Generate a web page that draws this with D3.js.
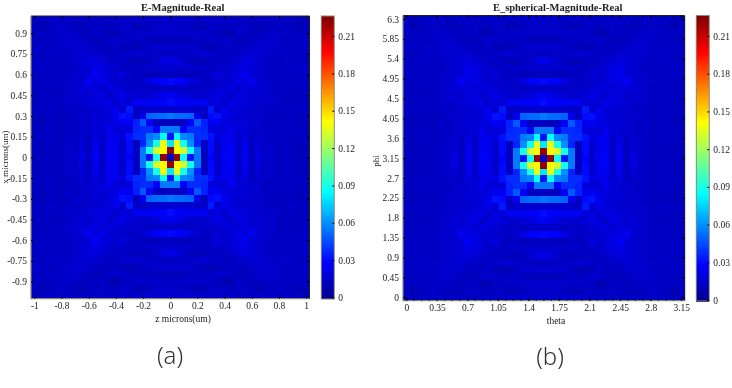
<!DOCTYPE html>
<html>
<head>
<meta charset="utf-8">
<script src="https://cdn.jsdelivr.net/npm/d3@7"></script>
<style>
  html, body { margin: 0; padding: 0; background: #fff; }
  svg { display: block; filter: blur(0.35px); }
</style>
</head>
<body>
<script>
// Upper-left quadrant of the field, in thousandths. Rows go top -> centre, columns left -> centre.
// The picture is symmetric around the centre cell, so the other three quadrants mirror this one.
var quadrant = [
  [13,12,13,14,15,14,13,14,15,14,13,14,15,15,14,15,16,16,15,16,16],
  [13,9,12,13,14,13,12,10,12,14,14,13,12,14,14,10,10,12,14,14,15],
  [14,13,13,14,14,15,14,13,12,13,15,9,9,13,14,15,15,15,15,15,15],
  [13,13,14,13,15,15,16,15,13,11,11,14,15,15,14,13,14,12,11,11,11],
  [14,14,13,14,14,16,17,16,15,13,13,13,15,10,10,10,13,15,16,16,16],
  [14,12,14,15,14,14,16,18,17,16,14,13,13,15,15,17,15,14,14,13,13],
  [13,13,14,14,13,14,15,17,19,20,17,15,14,14,13,11,11,12,15,20,22],
  [14,14,14,13,14,13,15,17,18,22,20,17,15,14,13,14,14,15,16,16,16],
  [14,13,13,13,13,14,15,16,18,26,20,18,16,20,14,13,13,11,11,12,12],
  [13,13,14,13,14,15,16,18,25,19,22,18,16,15,14,14,16,20,27,28,30],
  [13,12,13,14,12,15,16,18,18,20,16,20,19,17,15,15,14,13,14,14,14],
  [13,13,13,13,13,15,16,18,15,19,21,15,19,22,18,16,16,17,19,22,25],
  [13,12,14,13,14,15,15,16,18,19,20,22,15,20,17,25,25,25,26,28,31],
  [13,13,14,14,12,14,14,15,16,16,18,19,23,16,34,14,14,16,16,16,16],
  [13,11,13,13,12,13,14,16,15,18,17,19,24,32,30,12,24,50,52,52,55],
  [12,11,13,14,12,15,13,16,15,19,17,19,20,26,24,35,48,28,12,12,12],
  [12,12,14,13,12,14,13,15,16,18,18,24,18,18,20,36,38,38,28,55,55],
  [13,13,13,14,12,14,14,16,13,20,16,23,23,20,32,38,38,55,58,85,32],
  [13,11,13,13,12,15,14,18,13,23,15,25,24,15,30,12,36,60,90,138,80],
  [12,11,13,14,12,15,14,19,12,24,15,26,24,15,30,12,55,88,132,142,222],
  [13,12,13,13,12,15,15,21,13,26,15,26,25,15,28,12,55,32,85,222,15]
]

var xTicksA = [-1, -0.8, -0.6, -0.4, -0.2, 0, 0.2, 0.4, 0.6, 0.8, 1]
var yTicksA = [0.9, 0.75, 0.6, 0.45, 0.3, 0.15, 0, -0.15, -0.3, -0.45, -0.6, -0.75, -0.9]
var xTicksB = [0, 0.35, 0.7, 1.05, 1.4, 1.75, 2.1, 2.45, 2.8, 3.15]
var yTicksB = [0, 0.45, 0.9, 1.35, 1.8, 2.25, 2.7, 3.15, 3.6, 4.05, 4.5, 4.95, 5.4, 5.85, 6.3]
var barTicks = [0, 0.03, 0.06, 0.09, 0.12, 0.15, 0.18, 0.21]

var width = 732
var height = 388
var serif = '"Liberation Serif", "Times New Roman", serif'
var frameGray = '#8a8a78'

// full 41x41 grid from the quadrant
var field = []
for (var r = 0; r < 41; r++) {
  var row = []
  for (var c = 0; c < 41; c++) {
    row.push(quadrant[r <= 20 ? r : 40 - r][c <= 20 ? c : 40 - c] / 1000)
  }
  field.push(row)
}

// jet colormap
var vMax = 0.226
var jet = d3.scaleLinear()
  .domain([0, 0.125, 0.375, 0.625, 0.875, 1].map(d => d * vMax))
  .range(['#00008f', '#0000ff', '#00ffff', '#ffff00', '#ff0000', '#800000'])
  .clamp(true)

var svg = d3.select('body').append('svg')
  .attr('width', width)
  .attr('height', height)
  .attr('font-family', serif)

drawPanel({
  left: 31, right: 309.5, top: 16, bottom: 298.7,
  xStep: 0.05, yStep: 0.05, xStart: -1, yStart: -1,
  xTicks: xTicksA, yTicks: yTicksA, xMinor: null,
  title: 'E-Magnitude-Real', titleX: 182.7,
  xLabel: 'z microns(um)', xLabelX: 183, xLabelY: 321.5,
  yLabel: 'x microns(um)', yLabelX: 8, yLabelY: 157,
  barLeft: 321.3, barRight: 334.3, barTop: 16, barZero: 297.5, barBottom: 299
})

drawPanel({
  left: 403, right: 684.7, top: 15.5, bottom: 300.7,
  xStep: 0.07875, yStep: 0.1575, xStart: 0, yStart: 0,
  xTicks: xTicksB, yTicks: yTicksB, xMinor: d3.range(0, 3.2, 0.0875),
  title: 'E_spherical-Magnitude-Real', titleX: 557.7,
  xLabel: 'theta', xLabelX: 556, xLabelY: 324,
  yLabel: 'phi', yLabelX: 379, yLabelY: 161,
  barLeft: 696.3, barRight: 709.3, barTop: 15.5, barZero: 300, barBottom: 301
})

svg.append('text').attr('x', 170).attr('y', 364)
  .attr('text-anchor', 'middle')
  .attr('font-family', '"Noto Sans", sans-serif').attr('font-weight', 300)
  .attr('font-size', 24).attr('fill', '#333').text('(a)')
svg.append('text').attr('x', 550).attr('y', 365)
  .attr('text-anchor', 'middle')
  .attr('font-family', '"Noto Sans", sans-serif').attr('font-weight', 300)
  .attr('font-size', 24).attr('fill', '#333').text('(b)')

function drawPanel(p) {
  var g = svg.append('g')
  var xDomain = [p.xStart - p.xStep / 2, p.xStart + 40 * p.xStep + p.xStep / 2]
  var yDomain = [p.yStart - p.yStep / 2, p.yStart + 40 * p.yStep + p.yStep / 2]
  var x = d3.scaleLinear().domain(xDomain).range([p.left, p.right])
  var y = d3.scaleLinear().domain(yDomain).range([p.bottom, p.top])

  // cells
  var cells = []
  field.forEach((row, r) => row.forEach((v, c) => cells.push({ r: r, c: c, v: v })))
  g.append('g').attr('shape-rendering', 'crispEdges')
    .selectAll('rect').data(cells).join('rect')
    .attr('x', d => x(p.xStart + (d.c - 0.5) * p.xStep))
    .attr('y', d => y(p.yStart + (40 - d.r + 0.5) * p.yStep))
    .attr('width', x(p.xStep) - x(0) + 0.5)
    .attr('height', y(0) - y(p.yStep) + 0.5)
    .attr('fill', d => jet(d.v))

  // frame: top and right dark, left and bottom gray
  g.append('path').attr('fill', 'none').attr('stroke', '#222').attr('stroke-width', 1)
    .attr('d', d3.line()([[p.left, p.top], [p.right, p.top], [p.right, p.bottom]]))
  g.append('path').attr('fill', 'none').attr('stroke', frameGray).attr('stroke-width', 1.2)
    .attr('d', d3.line()([[p.left, p.top], [p.left, p.bottom], [p.right, p.bottom]]))

  // axes
  var axisB = g.append('g').attr('transform', `translate(0,${p.bottom})`)
    .call(d3.axisBottom(x).tickValues(p.xTicks).tickSize(-3).tickPadding(4).tickFormat(d => String(d)))
  var axisL = g.append('g').attr('transform', `translate(${p.left},0)`)
    .call(d3.axisLeft(y).tickValues(p.yTicks).tickSize(-3).tickPadding(4).tickFormat(d => String(d)))
  var axisT = g.append('g').attr('transform', `translate(0,${p.top})`)
    .call(d3.axisTop(x).tickValues(p.xTicks).tickSize(-3).tickFormat(''))
  var axisR = g.append('g').attr('transform', `translate(${p.right},0)`)
    .call(d3.axisRight(y).tickValues(p.yTicks).tickSize(-3).tickFormat(''))
  ;[axisB, axisL, axisT, axisR].forEach(a => {
    a.select('.domain').remove()
    a.selectAll('line').attr('stroke', '#000')
    a.selectAll('text').attr('font-family', serif).attr('font-size', 9.5).attr('fill', '#222')
  })

  // small ticks on the top and bottom of panel b
  if (p.xMinor) {
    g.append('g').selectAll('line').data(p.xMinor).join('line')
      .attr('x1', d => x(d)).attr('x2', d => x(d))
      .attr('y1', p.bottom).attr('y2', p.bottom - 2).attr('stroke', '#000')
    g.append('g').selectAll('line').data(p.xMinor).join('line')
      .attr('x1', d => x(d)).attr('x2', d => x(d))
      .attr('y1', p.top).attr('y2', p.top + 2).attr('stroke', '#000')
  }

  // titles
  g.append('text').attr('x', p.titleX).attr('y', 10.5).attr('text-anchor', 'middle')
    .attr('font-weight', 'bold').attr('font-size', 10.5).attr('fill', '#222').text(p.title)
  g.append('text').attr('x', p.xLabelX).attr('y', p.xLabelY).attr('text-anchor', 'middle')
    .attr('font-size', 9.5).attr('fill', '#222').text(p.xLabel)
  g.append('text').attr('transform', `translate(${p.yLabelX},${p.yLabelY}) rotate(-90)`)
    .attr('text-anchor', 'middle').attr('font-size', 9).attr('fill', '#222').text(p.yLabel)

  // colorbar
  var yBar = d3.scaleLinear().domain([0, 0.21]).range([p.barZero, 36])
  var levels = d3.range(p.barTop, p.barBottom, 1)
  g.append('g').attr('shape-rendering', 'crispEdges')
    .selectAll('rect').data(levels).join('rect')
    .attr('x', p.barLeft).attr('y', d => d)
    .attr('width', p.barRight - p.barLeft).attr('height', 1.2)
    .attr('fill', d => jet(yBar.invert(d + 0.5)))
  g.append('rect').attr('x', p.barLeft).attr('y', p.barTop)
    .attr('width', p.barRight - p.barLeft).attr('height', p.barBottom - p.barTop)
    .attr('fill', 'none').attr('stroke', frameGray).attr('stroke-width', 1)
  var axisBar = g.append('g').attr('transform', `translate(${p.barRight},0)`)
    .call(d3.axisRight(yBar).tickValues(barTicks).tickSize(-2).tickPadding(4).tickFormat(d => String(d)))
  axisBar.select('.domain').remove()
  axisBar.selectAll('line').attr('stroke', '#000')
  axisBar.selectAll('text').attr('font-family', serif).attr('font-size', 9.5).attr('fill', '#222')
}
</script>
</body>
</html>
